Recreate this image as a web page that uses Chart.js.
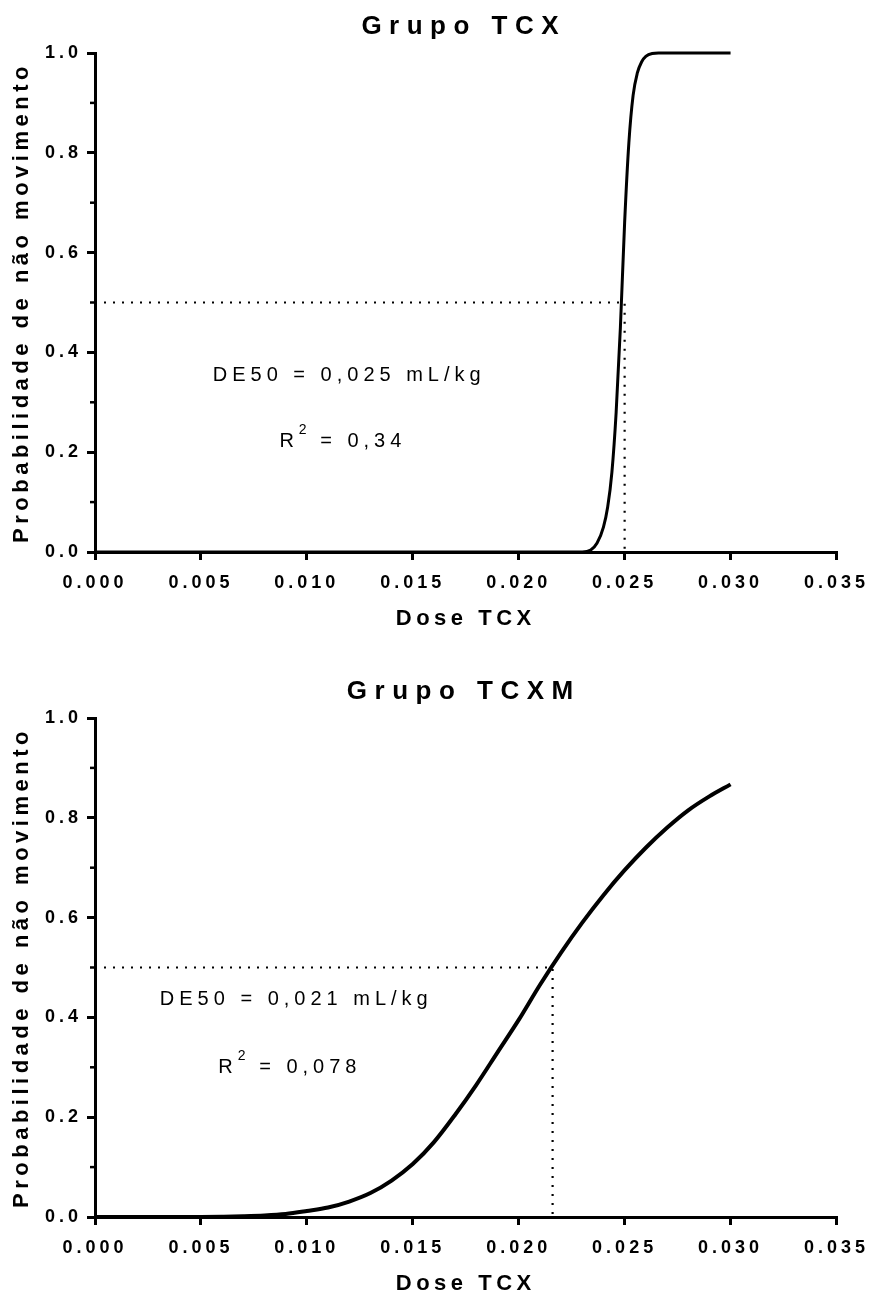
<!DOCTYPE html>
<html>
<head>
<meta charset="utf-8">
<script src="https://cdn.jsdelivr.net/npm/chart.js@4.4.1/dist/chart.umd.min.js"></script>
<style>
html, body { margin: 0; padding: 0; overflow: hidden; background: #fff; }
canvas { position: absolute; left: 0; }
#chartTCX { top: 0; }
#chartTCXM { top: 665px; }
</style>
</head>
<body>
<canvas id="chartTCX" width="871" height="640"></canvas>
<canvas id="chartTCXM" width="871" height="640"></canvas>
<script>
// values
var tcxDose = [0, 0.0230, 0.0234, 0.0237, 0.0240, 0.0242, 0.0244, 0.0246, 0.0248, 0.0250, 0.0252, 0.0254, 0.0256, 0.0258, 0.0260, 0.0263, 0.0266, 0.0300];
var tcxProb = [0, 0, 0.004, 0.018, 0.05, 0.09, 0.16, 0.28, 0.45, 0.66, 0.82, 0.915, 0.96, 0.982, 0.993, 0.999, 1.0, 1.0];

var tcxmDose = [0, 0.001, 0.002, 0.003, 0.004, 0.005, 0.006, 0.007, 0.008, 0.009, 0.010, 0.011, 0.012, 0.013, 0.014, 0.015,
                0.016, 0.017, 0.018, 0.019, 0.020, 0.021, 0.022, 0.023, 0.024, 0.025, 0.026, 0.027, 0.028, 0.029, 0.030];
var tcxmProb = [0, 0, 0, 0, 0, 0.0002, 0.0007, 0.0015, 0.003, 0.006, 0.012, 0.019, 0.031, 0.048, 0.073, 0.106,
                0.150, 0.205, 0.265, 0.330, 0.395, 0.465, 0.530, 0.590, 0.645, 0.695, 0.740, 0.780, 0.815, 0.843, 0.867];

var tcxDE50 = 0.025;
var tcxmDE50 = 0.0216;
var halfProb = 0.5;

var xTickValues = [0, 0.005, 0.010, 0.015, 0.020, 0.025, 0.030, 0.035];
var yTickValues = [0, 0.2, 0.4, 0.6, 0.8, 1.0];
var yMinorTicks = [0.1, 0.3, 0.5, 0.7, 0.9];

var FONT = "'Liberation Sans', Arial, sans-serif";
var SPACING = {26: 7.5, 22: 4.5, 20: 5, 18: 4, 14: 3};

Chart.defaults.font.family = FONT;
Chart.defaults.color = '#000';

// GraphPad style spaced-out lettering, picked by font size
function spacedContext(canvas) {
    var ctx = canvas.getContext('2d');
    var fill = ctx.fillText;
    ctx.fillText = function (text, x, y, maxWidth) {
        var m = /(\d+)px/.exec(this.font);
        this.letterSpacing = (m && SPACING[m[1]] ? SPACING[m[1]] : 0) + 'px';
        if (maxWidth === undefined) fill.call(this, text, x, y);
        else fill.call(this, text, x, y, maxWidth);
    };
    return ctx;
}

var extras = {
    id: 'extras',
    afterDraw: function (chart) {
        var o = chart.options.plugins.extras;
        var ctx = chart.ctx, a = chart.chartArea;
        var xs = chart.scales.x, ys = chart.scales.y;
        ctx.save();
        ctx.fillStyle = '#000';
        ctx.textBaseline = 'middle';
        ctx.textAlign = 'center';
        ctx.font = 'bold 26px ' + FONT;
        ctx.fillText(o.title, (a.left + a.right) / 2 - 2, 27);

        ctx.strokeStyle = '#000';
        ctx.lineWidth = 2.5;
        yMinorTicks.forEach(function (v) {
            var py = ys.getPixelForValue(v);
            ctx.beginPath();
            ctx.moveTo(a.left - 5, py);
            ctx.lineTo(a.left, py);
            ctx.stroke();
        });

        ctx.font = '20px ' + FONT;
        ctx.fillText(o.de50Text, xs.getPixelForValue(o.de50At[0]), ys.getPixelForValue(o.de50At[1]));

        // R with superscript 2
        var cx = xs.getPixelForValue(o.r2At[0]), cy = ys.getPixelForValue(o.r2At[1]);
        var rest = ' = ' + o.r2;
        ctx.textAlign = 'left';
        ctx.letterSpacing = '5px';
        var wR = ctx.measureText('R').width, wRest = ctx.measureText(rest).width;
        ctx.font = '14px ' + FONT;
        ctx.letterSpacing = '3px';
        var w2 = ctx.measureText('2').width;
        var left = cx - (wR + w2 + wRest) / 2;
        ctx.fillText('2', left + wR, cy - 11);
        ctx.font = '20px ' + FONT;
        ctx.fillText('R', left, cy);
        ctx.fillText(rest, left + wR + w2, cy);
        ctx.restore();
    }
};

function points(xs, ys) {
    return xs.map(function (x, i) { return {x: x, y: ys[i]}; });
}

function makeChart(id, cfg) {
    var axisStyle = {
        border: {display: true, color: '#000', width: 3},
        grid: {display: true, drawOnChartArea: false, drawTicks: true, tickLength: 8, tickWidth: 3, tickColor: '#000', color: '#000', lineWidth: 3}
    };
    return new Chart(spacedContext(document.getElementById(id)), {
        type: 'line',
        data: {
            datasets: [{
                data: points(cfg.dose, cfg.prob),
                borderColor: '#000',
                borderWidth: cfg.lineWidth,
                pointRadius: 0,
                cubicInterpolationMode: 'monotone',
                fill: false,
                clip: false
            }, {
                data: [{x: 0, y: halfProb}, {x: cfg.de50, y: halfProb}, {x: cfg.de50, y: 0}],
                borderColor: '#000',
                borderWidth: 2.2,
                borderDash: [2, 7],
                pointRadius: 0,
                tension: 0,
                fill: false
            }]
        },
        options: {
            responsive: false,
            animation: false,
            layout: {padding: {left: 0, top: 53, right: 34, bottom: 0}},
            plugins: {
                legend: {display: false},
                tooltip: {enabled: false},
                extras: {title: cfg.title, de50Text: cfg.de50Text, de50At: cfg.de50At, r2: cfg.r2, r2At: cfg.r2At}
            },
            scales: {
                x: Object.assign({
                    type: 'linear',
                    min: 0,
                    max: 0.035,
                    afterBuildTicks: function (s) { s.ticks = xTickValues.map(function (v) { return {value: v}; }); },
                    afterFit: function (s) { s.height = 88; },
                    ticks: {padding: 12, maxRotation: 0, font: {size: 18, weight: 'bold'}, callback: function (v) { return v.toFixed(3); }},
                    title: {display: true, text: 'Dose TCX', font: {size: 22, weight: 'bold'}, padding: {top: 0, bottom: 8}}
                }, axisStyle),
                y: Object.assign({
                    type: 'linear',
                    min: 0,
                    max: 1,
                    afterBuildTicks: function (s) { s.ticks = yTickValues.map(function (v) { return {value: v}; }); },
                    afterFit: function (s) { s.width = 95; },
                    ticks: {padding: 5, font: {size: 18, weight: 'bold'}, callback: function (v) { return v.toFixed(1); }},
                    title: {display: true, text: 'Probabilidade de não movimento', font: {size: 22, weight: 'bold'}, padding: {top: 9, bottom: 0}}
                }, axisStyle)
            }
        },
        plugins: [extras]
    });
}

makeChart('chartTCX', {
    title: 'Grupo TCX',
    dose: tcxDose, prob: tcxProb, lineWidth: 3,
    de50: tcxDE50,
    de50Text: 'DE50 = 0,025 mL/kg', de50At: [0.0120, 0.353],
    r2: '0,34', r2At: [0.0117, 0.222]
});

makeChart('chartTCXM', {
    title: 'Grupo TCXM',
    dose: tcxmDose, prob: tcxmProb, lineWidth: 4,
    de50: tcxmDE50,
    de50Text: 'DE50 = 0,021 mL/kg', de50At: [0.0095, 0.435],
    r2: '0,078', r2At: [0.0092, 0.30]
});
</script>
</body>
</html>
